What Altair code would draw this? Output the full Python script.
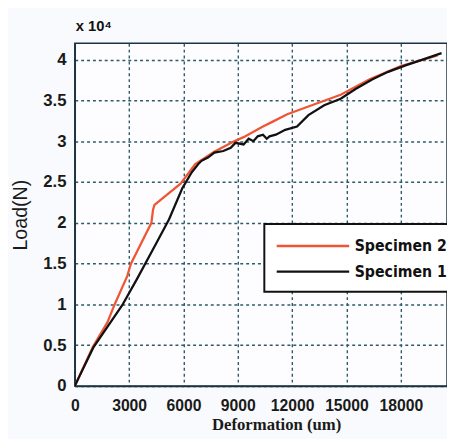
import altair as alt
import pandas as pd

# Specimen 2 (red)
s2_def = [0, 1000, 1800, 2200, 2900, 3100, 4230, 4320, 4400, 5840, 6650, 7700, 8800, 9320,
          10390, 10930, 11730, 13200, 14680, 16280, 18000, 20030]
s2_load = [0, 0.48, 0.78, 1.0, 1.35, 1.5, 2.0, 2.16, 2.22, 2.48, 2.72, 2.87, 3.0, 3.05,
           3.18, 3.24, 3.33, 3.45, 3.57, 3.76, 3.92, 4.05]

# Specimen 1'' (black)
s1_def = [0, 214, 1020, 2620, 3430, 4500, 5200, 5930, 6460, 6820, 7000, 7350, 7710, 8200,
          8610, 8870, 9320, 9600, 9860, 10100, 10390, 10600, 10750, 11100, 11620, 12270,
          12900, 13770, 14680, 15500, 16440, 17300, 18260, 19200, 20250]
s1_load = [0, 0.1, 0.47, 0.99, 1.31, 1.75, 2.04, 2.42, 2.62, 2.72, 2.76, 2.80, 2.86, 2.88,
           2.92, 2.98, 2.96, 3.03, 3.0, 3.06, 3.08, 3.03, 3.06, 3.08, 3.14, 3.18,
           3.32, 3.44, 3.52, 3.64, 3.76, 3.85, 3.93, 4.0, 4.08]

series = ["Specimen 2", "Specimen 1''"]
colors = ["#ee5634", "#111111"]

x_ticks = [0, 3000, 6000, 9000, 12000, 15000, 18000]
y_ticks = [0, 0.5, 1, 1.5, 2, 2.5, 3, 3.5, 4]

df = pd.concat([
    pd.DataFrame({"def": s2_def, "load": s2_load, "series": series[0], "k": 0}),
    pd.DataFrame({"def": s1_def, "load": s1_load, "series": series[1], "k": 1}),
])

grid_color = "#2f5a68"
axis_color = "#1d3440"

chart = alt.Chart(df).mark_line(strokeWidth=2.3, clip=True).encode(
    x=alt.X("def:Q", scale=alt.Scale(domain=[0, 20550], nice=False, zero=False),
            axis=alt.Axis(values=x_ticks, format="d", title="Deformation (um)",
                          titleFont="Liberation Serif", titleFontSize=17, titleFontWeight="bold",
                          titleX=205, titlePadding=3,
                          labelFont="Liberation Sans", labelFontSize=16, labelFontWeight="bold",
                          labelPadding=12, labelFlush=False)),
    y=alt.Y("load:Q", scale=alt.Scale(domain=[0, 4.2], nice=False),
            axis=alt.Axis(values=y_ticks, format="~g", title="Load(N)",
                          titleFont="Liberation Sans", titleFontSize=20, titleFontWeight="normal",
                          titlePadding=13,
                          labelFont="Liberation Sans", labelFontSize=17, labelFontWeight="bold",
                          labelPadding=9, labelFlush=False)),
    color=alt.Color("series:N", scale=alt.Scale(domain=series, range=colors),
                    legend=alt.Legend(title=None, orient="none", legendX=193, legendY=184,
                                      symbolType="M-4.1,0H4.1", symbolSize=324, symbolStrokeWidth=2.5,
                                      symbolOffset=27,
                                      labelFont="DejaVu Sans Condensed, Liberation Sans", labelFontSize=16,
                                      labelFontWeight="bold", labelColor="#111111",
                                      fillColor="white", strokeColor="#111111",
                                      padding=12, rowPadding=7, labelOffset=32)),
    order=alt.Order("k:Q"),
).properties(
    width=379, height=349,
    autosize=alt.AutoSizeParams(type="none"),
    padding={"left": 68, "top": 32, "right": 0, "bottom": 50},
    title=alt.TitleParams("x 10⁴", anchor="start", frame="group", font="Liberation Sans",
                          fontSize=15, fontWeight="bold", color="#111111", offset=10, dx=1),
).configure(
    background="#f9fafd",
).configure_view(
    fill="#fdfdff", stroke=axis_color, strokeWidth=1.5,
).configure_axis(
    grid=True, gridColor=grid_color, gridDash=[3, 3], gridWidth=1.4, gridOpacity=1,
    domainColor=axis_color, domainWidth=1.5, ticks=False,
    labelColor="#1a1a1a", titleColor="#1a1a1a",
).configure_legend(
    strokeWidth=2,
)

chart.save("out.html", embed_options={"renderer": "svg", "actions": False})
